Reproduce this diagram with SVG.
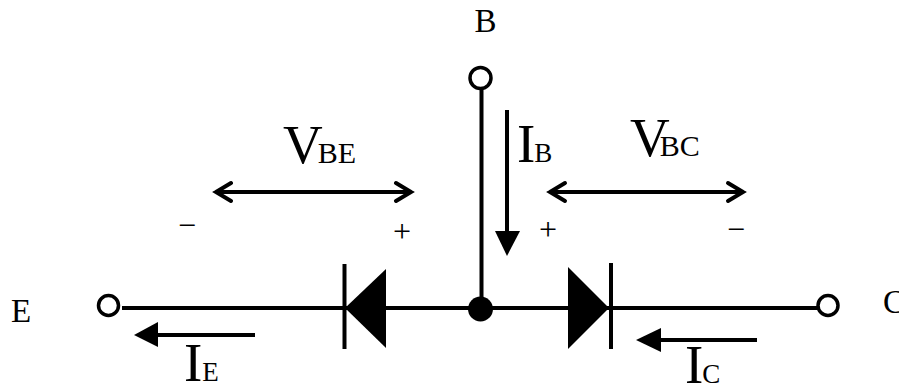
<svg xmlns="http://www.w3.org/2000/svg" width="899" height="386" viewBox="0 0 899 386">
<style>
text{font-family:"Liberation Serif","Times New Roman",serif;fill:#000}
.big{font-size:55px}
.sub{font-size:30px}
.isub{font-size:27px}
.lab{font-size:33px}
.sign{font-size:32px}
.w{fill:none;stroke:#000;stroke-width:4}
.term{fill:#fff;stroke:#000;stroke-width:3.500}
.fill{fill:#000}
</style>
<rect width="899" height="386" fill="#fff"/>
<g id="connectors">
<path class="w" d="M122 308H817"/>
<path class="w" d="M481.500 88V309"/>
<path class="w" d="M255 335H156"/>
<polygon class="fill" points="134,335 158,322 158,347"/>
<path class="w" d="M757 340H659"/>
<polygon class="fill" points="636,340 661,328 661,352"/>
<path class="w" d="M507 110V233"/>
<polygon class="fill" points="507,256 495,231 520,231"/>
<path class="w" d="M216 192H411M231 183L216 192L231 201M396 183L411 192L396 201" stroke-linecap="round"/>
<path class="w" d="M550 192H743M565 183L550 192L565 201M728 183L743 192L728 201" stroke-linecap="round"/>
</g>
<g id="node-E"><circle class="term" cx="108.500" cy="305.500" r="10"/><text class="lab" x="11" y="322">E</text></g>
<g id="node-B"><circle class="term" cx="480.500" cy="78" r="10.500"/><text class="lab" x="474.500" y="32">B</text></g>
<g id="node-C"><circle class="term" cx="828" cy="305.500" r="10"/><text class="lab" x="883" y="313">C</text></g>
<g id="junction"><circle class="fill" cx="480.500" cy="309" r="12.500"/></g>
<g id="diode-BE"><path class="w" d="M344.500 264V349"/><polygon class="fill" points="345,308 386,269 386,348"/></g>
<g id="diode-BC"><path class="w" d="M611 263V349"/><polygon class="fill" points="609,308 568,267 568,349"/></g>
<text id="label-VBE" class="big" x="283" y="163">V<tspan class="sub" dx="-5">BE</tspan></text>
<text id="label-VBC" class="big" x="630" y="156">V<tspan class="sub" dx="-10">BC</tspan></text>
<text id="label-IB" class="big" x="517" y="162">I<tspan class="isub" dx="-1">B</tspan></text>
<text id="label-IE" class="big" x="184" y="381">I<tspan class="isub" dx="0">E</tspan></text>
<text id="label-IC" class="big" x="685" y="383">I<tspan class="isub" dx="-1">C</tspan></text>
<g id="signs">
<text class="sign" x="187" y="236" text-anchor="middle">−</text>
<text class="sign" x="402" y="242" text-anchor="middle">+</text>
<text class="sign" x="548" y="240" text-anchor="middle">+</text>
<text class="sign" x="736" y="240" text-anchor="middle">−</text>
</g>
</svg>
